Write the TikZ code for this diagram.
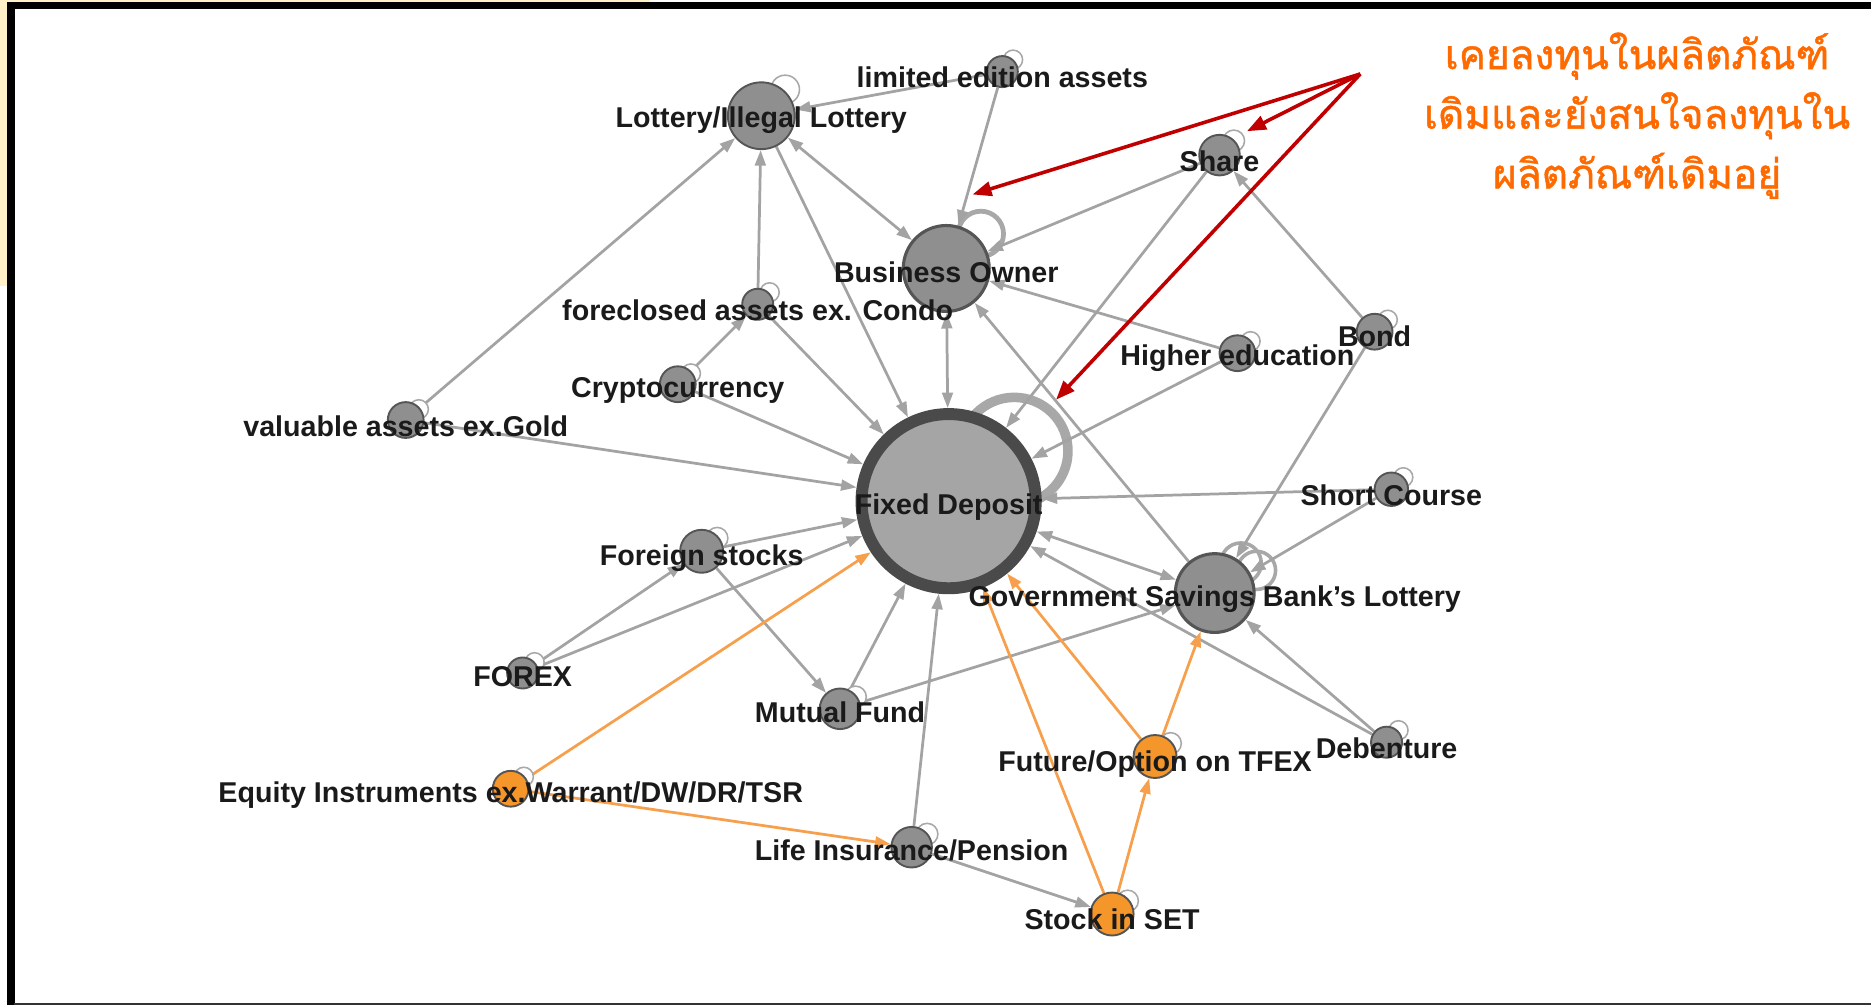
\documentclass[tikz,border=0pt]{standalone}
\usepackage{fontspec}
\setmainfont{Liberation Sans}
\newfontfamily\thaifont[Script=Thai,FakeBold=1.2]{Loma}
\usetikzlibrary{arrows.meta,backgrounds}
\definecolor{cream}{HTML}{FFF0C8}
\definecolor{ndfill}{HTML}{8F8F8F}
\definecolor{ndline}{HTML}{555555}
\definecolor{fdline}{HTML}{4A4A4A}
\definecolor{edgegray}{HTML}{A3A3A3}
\definecolor{loopgray}{HTML}{A8A8A8}
\definecolor{edgeor}{HTML}{F6A04D}
\definecolor{orfill}{HTML}{F5962A}
\definecolor{redarr}{HTML}{C00000}
\definecolor{thaior}{HTML}{FF6A00}
\definecolor{lbl}{HTML}{1A1A1A}
\begin{document}
\begin{tikzpicture}[x=1pt,y=-1pt,
  gn/.style={circle, draw=ndline, fill=ndfill, line width=1.6pt, inner sep=0pt, minimum size=#1},
  on/.style={circle, draw=ndline, fill=orfill, line width=1.6pt, inner sep=0pt, minimum size=#1},
  lab/.style={font=\fontsize{24}{26}\selectfont\bfseries, text=lbl, inner sep=0pt},
  ge/.style={draw=edgegray, line width=2.3pt, -{Triangle[length=13pt,width=9pt]}},
  gee/.style={draw=edgegray, line width=2.3pt, {Triangle[length=13pt,width=9pt]}-{Triangle[length=13pt,width=9pt]}},
  oe/.style={draw=edgeor, line width=2.3pt, -{Triangle[length=13pt,width=9pt]}},
  lp/.style={draw=loopgray, line width=1.3pt, fill=white},
  ra/.style={draw=redarr, line width=3pt, -{Triangle[length=16pt,width=12pt]}},
  thai/.style={font=\thaifont\fontsize{34}{50}\selectfont, text=thaior, align=center, inner sep=0pt}
]
\useasboundingbox (0,0) rectangle (1568,842);
% frame
\fill[cream] (0,0) rectangle (5.5,240);
\fill[cream] (0,0) rectangle (545,1.4);
\fill[black] (6,1.5) rectangle (12.3,842);
\fill[black] (6,1.5) rectangle (1568,7.8);
\fill[black!80] (12,840.6) rectangle (1568,842);

% nodes
\node[gn=56pt] (lot) at (638,97) {};
\node[gn=26pt] (lim) at (840,60) {};
\node[gn=34pt] (share) at (1022,130) {};
\node[gn=72pt, line width=2.6pt] (bo) at (793,225) {};
\node[gn=26pt] (fore) at (635,255) {};
\node[gn=30pt] (bond) at (1152,278) {};
\node[gn=30pt] (high) at (1037,296) {};
\node[gn=30pt] (cry) at (568,322) {};
\node[gn=30pt] (val) at (340,352) {};
\node[gn=146pt, draw=fdline, fill=ndfill!80!white, line width=10pt] (fd) at (795,420) {};
\node[gn=28pt] (short) at (1166,410) {};
\node[gn=36pt] (fs) at (588,462) {};
\node[gn=66pt, line width=2.6pt] (gsb) at (1018,497) {};
\node[gn=26pt] (forex) at (438,564) {};
\node[gn=34pt] (mf) at (704,594) {};
\node[on=36pt] (fut) at (968,634) {};
\node[gn=26pt] (deb) at (1162,622) {};
\node[on=30pt] (eq) at (428,661) {};
\node[gn=34pt] (life) at (764,710) {};
\node[on=36pt] (set) at (932,766) {};

\begin{scope}[on background layer]
% self loops
\draw[loopgray, line width=8pt] (850,378) circle (45);
\draw[loopgray, line width=4pt] (822,196) circle (19);
\draw[loopgray, line width=3pt] (1040,472) circle (17);
\draw[loopgray, line width=3pt] (1053,478) circle (16);
% edges
\draw[ge] (lim) -- (lot);
\draw[ge] (lim) -- (bo);
\draw[gee] (lot) -- (bo);
\draw[ge] (lot) -- (fd);
\draw[ge] (fore) -- (lot);
\draw[ge] (val) -- (lot);
\draw[ge] (fore) -- (fd);
\draw[ge] (cry) -- (fore);
\draw[ge] (cry) -- (fd);
\draw[ge] (val) -- (fd);
\draw[gee] (bo) -- (fd);
\draw[ge] (share) -- (bo);
\draw[ge] (share) -- (fd);
\draw[ge] (high) -- (bo);
\draw[ge] (high) -- (fd);
\draw[ge] (gsb) -- (bo);
\draw[ge] (bond) -- (share);
\draw[ge] (bond) -- (gsb);
\draw[ge] (short) -- (fd);
\draw[ge] (short) -- (gsb);
\draw[gee] (fd) -- (gsb);
\draw[ge] (deb) -- (gsb);
\draw[ge] (deb) -- (fd);
\draw[ge] (mf) -- (gsb);
\draw[ge] (fs) -- (fd);
\draw[ge] (forex) -- (fd);
\draw[ge] (forex) -- (fs);
\draw[ge] (fs) -- (mf);
\draw[ge] (mf) -- (fd);
\draw[ge] (life) -- (fd);
\draw[ge] (life) -- (set);
\draw[oe] (eq) -- (fd);
\draw[oe] (eq) -- (life);
\draw[oe] (set) -- (fd);
\draw[oe] (fut) -- (fd);
\draw[oe] (set) -- (fut);
\draw[oe] (fut) -- (gsb);
% small loops
\draw[lp] ([shift={(20,-22)}]lot.center) circle (12);
\draw[lp] ([shift={(9,-10)}]lim.center) circle (8);
\draw[lp] ([shift={(12,-12)}]share.center) circle (9);
\draw[lp] ([shift={(10,-10)}]fore.center) circle (8);
\draw[lp] ([shift={(11,-10)}]bond.center) circle (8);
\draw[lp] ([shift={(11,-10)}]high.center) circle (8);
\draw[lp] ([shift={(11,-9)}]cry.center) circle (8);
\draw[lp] ([shift={(11,-9)}]val.center) circle (8);
\draw[lp] ([shift={(10,-10)}]short.center) circle (8);
\draw[lp] ([shift={(13,-11)}]fs.center) circle (9);
\draw[lp] ([shift={(10,-9)}]forex.center) circle (8);
\draw[lp] ([shift={(13,-10)}]mf.center) circle (9);
\draw[lp] ([shift={(13,-11)}]fut.center) circle (9);
\draw[lp] ([shift={(10,-10)}]deb.center) circle (8);
\draw[lp] ([shift={(11,-10)}]eq.center) circle (8);
\draw[lp] ([shift={(13,-11)}]life.center) circle (9);
\draw[lp] ([shift={(13,-11)}]set.center) circle (9);
\end{scope}

% labels
\node[lab] (lotL) at ([yshift=-4pt]lot.center) {Lottery/Illegal Lottery};
\node[lab] (limL) at ([yshift=-5pt]lim.center) {limited edition assets};
\node[lab] (shareL) at ([yshift=-5pt]share.center) {Share};
\node[lab] (boL) at ([yshift=-3pt]bo.center) {Business Owner};
\node[lab] (foreL) at ([yshift=-5pt]fore.center) {foreclosed assets ex. Condo};
\node[lab] (bondL) at ([yshift=-4pt]bond.center) {Bond};
\node[lab] (highL) at ([yshift=-4pt]high.center) {Higher education};
\node[lab] (cryL) at ([yshift=-5pt]cry.center) {Cryptocurrency};
\node[lab] (valL) at ([yshift=-5pt]val.center) {valuable assets ex.Gold};
\node[lab] (fdL) at ([yshift=-5pt]fd.center) {Fixed Deposit};
\node[lab] (shortL) at ([yshift=-5pt]short.center) {Short Course};
\node[lab] (fsL) at ([yshift=-6pt]fs.center) {Foreign stocks};
\node[lab] (gsbL) at ([yshift=-5pt]gsb.center) {Government Savings Bank's Lottery};
\node[lab] (forexL) at ([yshift=-3pt]forex.center) {FOREX};
\node[lab] (mfL) at ([yshift=-3pt]mf.center) {Mutual Fund};
\node[lab] (futL) at ([yshift=-6pt]fut.center) {Future/Option on TFEX};
\node[lab] (debL) at ([yshift=-5pt]deb.center) {Debenture};
\node[lab] (eqL) at ([yshift=-5pt]eq.center) {Equity Instruments ex.Warrant/DW/DR/TSR};
\node[lab] (lifeL) at ([yshift=-3pt]life.center) {Life Insurance/Pension};
\node[lab] (setL) at ([yshift=-4pt]set.center) {Stock in SET};

% annotation
\node[thai] (note) at (1372,97) {เคยลงทุนในผลิตภัณฑ์\\เดิมและยังสนใจลงทุนใน\\ผลิตภัณฑ์เดิมอยู่};
\coordinate (rsrc) at (1140,62);
\coordinate (rbo) at (815,163);
\coordinate (rshare) at (1045,110);
\coordinate (rfd) at (885,335);
\draw[ra] (rsrc) -- (rbo);
\draw[ra] (rsrc) -- (rshare);
\draw[ra] (rsrc) -- (rfd);
\end{tikzpicture}
\end{document}
